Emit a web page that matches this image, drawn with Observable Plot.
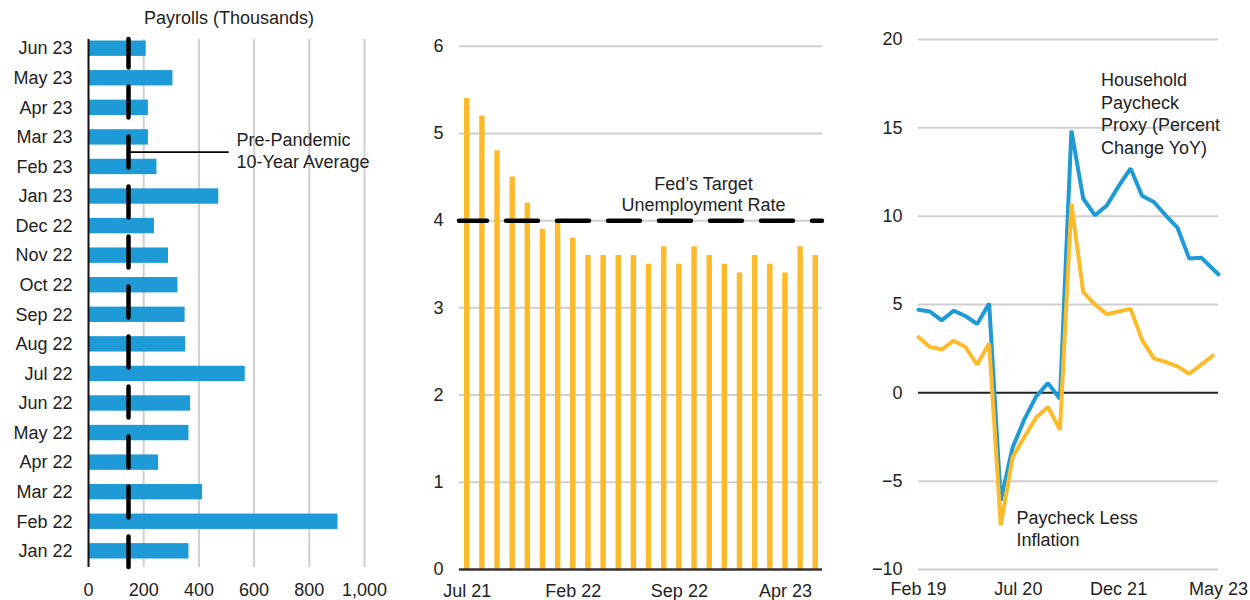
<!DOCTYPE html>
<html>
<head>
<meta charset="utf-8">
<script src="https://cdn.jsdelivr.net/npm/d3@7"></script>
<script src="https://cdn.jsdelivr.net/npm/@observablehq/plot@0.6"></script>
<style>
  body { margin: 0; background: #fff; font-family: "Liberation Sans", Arial, sans-serif; }
  #wrap { position: relative; width: 1250px; height: 600px; overflow: hidden; }
  .panel { position: absolute; top: 0; }
  .title { position: absolute; font-size: 18px; line-height: 20px; color: #222; text-align: center; white-space: nowrap; }
</style>
</head>
<body>
<div id="wrap">
  <div class="title" style="left:129px; width:200px; top:8px;">Payrolls (Thousands)</div>
  <div class="panel" id="payrolls" style="left:0px;"></div>
  <div class="panel" id="unemployment" style="left:420px;"></div>
  <div class="panel" id="paycheck" style="left:860px;"></div>
</div>
<script>
// ---- Panel 1: monthly nonfarm payroll gains (thousands), newest on top
const payrollMonths = ["Jun 23", "May 23", "Apr 23", "Mar 23", "Feb 23", "Jan 23", "Dec 22", "Nov 22", "Oct 22",
  "Sep 22", "Aug 22", "Jul 22", "Jun 22", "May 22", "Apr 22", "Mar 22", "Feb 22", "Jan 22"];
const payrollGains = [209, 306, 217, 217, 248, 472, 239, 290, 324, 350, 352, 568, 370, 364, 254, 413, 904, 364];
const prePandemicAvg = 145;
const payrollTicks = [0, 200, 400, 600, 800, 1000];
const avgNote = {month: "Feb 23", text: "Pre-Pandemic\n10-Year Average", leaderEnd: 510};

// ---- Panel 2: unemployment rate (%)
const rateMonths = ["Jul 21", "Aug 21", "Sep 21", "Oct 21", "Nov 21", "Dec 21", "Jan 22", "Feb 22", "Mar 22",
  "Apr 22", "May 22", "Jun 22", "Jul 22", "Aug 22", "Sep 22", "Oct 22", "Nov 22", "Dec 22", "Jan 23", "Feb 23",
  "Mar 23", "Apr 23", "May 23", "Jun 23"];
const unemploymentRate = [5.4, 5.2, 4.8, 4.5, 4.2, 3.9, 4.0, 3.8, 3.6, 3.6, 3.6, 3.6, 3.5, 3.7, 3.5, 3.7, 3.6, 3.5,
  3.4, 3.6, 3.5, 3.4, 3.7, 3.6];
const fedTarget = 4;
const rateTicks = [0, 1, 2, 3, 4, 5, 6];
const rateTickMonths = ["Jul 21", "Feb 22", "Sep 22", "Apr 23"];
const fedNote = {month: "Oct 22", text: "Fed\u2019s Target\nUnemployment Rate"};

// ---- Panel 3: household paycheck proxy and paycheck less inflation (% YoY)
const proxyDates = ["2019-02", "2019-04", "2019-06", "2019-08", "2019-10", "2019-12", "2020-02", "2020-04",
  "2020-06", "2020-08", "2020-10", "2020-12", "2021-02", "2021-04", "2021-06", "2021-08", "2021-10", "2021-12",
  "2022-02", "2022-04", "2022-06", "2022-08", "2022-10", "2022-12", "2023-02", "2023-05"];
const paycheckProxy = [4.7, 4.6, 4.1, 4.65, 4.35, 3.9, 5.05, -6.1, -3.1, -1.5, -0.2, 0.55, -0.35, 14.85, 11.0,
  10.05, 10.6, 11.7, 12.7, 11.15, 10.8, 10.05, 9.35, 7.6, 7.65, 6.7];
const realDates = ["2019-02", "2019-04", "2019-06", "2019-08", "2019-10", "2019-12", "2020-02", "2020-04",
  "2020-06", "2020-08", "2020-10", "2020-12", "2021-02", "2021-04", "2021-06", "2021-08", "2021-10", "2021-12",
  "2022-02", "2022-04", "2022-06", "2022-08", "2022-10", "2022-12", "2023-02", "2023-04"];
const paycheckLessInflation = [3.15, 2.6, 2.45, 2.95, 2.6, 1.6, 2.8, -7.5, -3.65, -2.5, -1.4, -0.8, -2.1, 10.7,
  5.7, 5.0, 4.45, 4.6, 4.75, 3.0, 1.95, 1.75, 1.5, 1.08, 1.6, 2.1];
const paycheckTicks = [-10, -5, 0, 5, 10, 15, 20];
const paycheckTickDates = ["2019-02", "2020-07", "2021-12", "2023-05"];
const proxyNote = {date: "2021-09", value: 15.85, text: "Household\nPaycheck\nProxy (Percent\nChange YoY)"};
const realNote = {date: "2020-06", value: -7.65, text: "Paycheck Less\nInflation"};

const BLUE = "#1e9ad6";
const GOLD = "#fdba2b";
const GRID = "#cfcfcf";
const INK = "#222";
const parseMonth = d3.utcParse("%Y-%m");
const baseStyle = {fontSize: "18px", fontFamily: "'Liberation Sans', Arial, sans-serif", color: INK, background: "transparent", overflow: "visible"};

// Payrolls: horizontal bars with the pre-pandemic average as a dashed reference
const payrollData = payrollMonths.map((m, i) => ({month: m, value: payrollGains[i]}));
const payrollPlot = Plot.plot({
  width: 420, height: 600,
  marginLeft: 88, marginRight: 56, marginTop: 39, marginBottom: 33,
  style: baseStyle,
  x: {domain: [0, 1000], ticks: payrollTicks, tickFormat: d3.format(","), tickSize: 0, tickPadding: 16, label: null},
  y: {domain: payrollMonths, range: [40.5, 558.5], paddingInner: 0.48, paddingOuter: 0, round: false, tickSize: 0, tickPadding: 16, label: null},
  marks: [
    Plot.ruleX(payrollTicks.filter(d => d > 0), {stroke: GRID, strokeWidth: 2}),
    Plot.barX(payrollData, {x: "value", y: "month", fill: BLUE}),
    Plot.ruleX([0], {stroke: "#111", strokeWidth: 2}),
    Plot.ruleX([prePandemicAvg], {stroke: "#000", strokeWidth: 4.5, strokeDasharray: "31,19", strokeDashoffset: 2.5, strokeLinecap: "round"}),
    Plot.ruleY([avgNote.month], {x1: prePandemicAvg, x2: avgNote.leaderEnd, dy: -14.8, stroke: "#000", strokeWidth: 1.6}),
    Plot.text([avgNote], {x: () => prePandemicAvg, y: "month", text: "text", dx: 108, dy: -17, textAnchor: "start", lineAnchor: "middle", lineHeight: 1.22, fontSize: 18, fill: INK})
  ]
});
document.getElementById("payrolls").append(payrollPlot);

// Unemployment: thin vertical bars against the Fed's target
const rateData = rateMonths.map((m, i) => ({month: m, value: unemploymentRate[i]}));
const ratePlot = Plot.plot({
  width: 420, height: 600,
  marginLeft: 39, marginRight: 18, marginTop: 45.7, marginBottom: 31,
  style: baseStyle,
  x: {domain: rateMonths, range: [44, 398], paddingInner: 0.64, paddingOuter: 0, round: false, ticks: rateTickMonths, tickSize: 0, tickPadding: 15, label: null},
  y: {domain: [0, 6], ticks: rateTicks, tickFormat: d3.format("d"), tickSize: 0, tickPadding: 16, label: null},
  marks: [
    Plot.ruleY(rateTicks.filter(d => d > 0), {stroke: GRID, strokeWidth: 2}),
    Plot.barY(rateData, {x: "month", y: "value", fill: GOLD}),
    Plot.ruleY([0], {stroke: "#333", strokeWidth: 2.5}),
    Plot.ruleY([fedTarget], {stroke: "#000", strokeWidth: 4.5, strokeDasharray: "32,19", strokeDashoffset: 4, strokeLinecap: "round"}),
    Plot.text([fedNote], {x: "month", y: () => fedTarget, text: "text", dx: 9, dy: -27, textAnchor: "middle", lineAnchor: "middle", lineHeight: 1.17, fontSize: 18, fill: INK})
  ]
});
document.getElementById("unemployment").append(ratePlot);

// Paycheck proxy: two year-over-year lines
const proxyData = proxyDates.map((d, i) => ({date: parseMonth(d), value: paycheckProxy[i]}));
const realData = realDates.map((d, i) => ({date: parseMonth(d), value: paycheckLessInflation[i]}));
const paycheckPlot = Plot.plot({
  width: 390, height: 600,
  marginLeft: 58, marginRight: 32, marginTop: 39, marginBottom: 31,
  style: baseStyle,
  x: {type: "utc", domain: [parseMonth("2019-02"), parseMonth("2023-05")], ticks: paycheckTickDates.map(parseMonth), tickFormat: d3.utcFormat("%b %y"), tickSize: 0, tickPadding: 13, label: null},
  y: {domain: [-10, 20], ticks: paycheckTicks, tickSize: 0, tickPadding: 16, label: null},
  marks: [
    Plot.ruleY(paycheckTicks.filter(d => d !== 0), {stroke: GRID, strokeWidth: 2}),
    Plot.ruleY([0], {stroke: "#222", strokeWidth: 2}),
    Plot.line(proxyData, {x: "date", y: "value", stroke: BLUE, strokeWidth: 4, strokeLinejoin: "miter"}),
    Plot.line(realData, {x: "date", y: "value", stroke: GOLD, strokeWidth: 4, strokeLinejoin: "miter"}),
    Plot.text([proxyNote], {x: d => parseMonth(d.date), y: "value", text: "text", textAnchor: "start", lineAnchor: "middle", lineHeight: 1.25, fontSize: 18, fill: INK}),
    Plot.text([realNote], {x: d => parseMonth(d.date), y: "value", text: "text", dx: 4, textAnchor: "start", lineAnchor: "middle", lineHeight: 1.22, fontSize: 18, fill: INK})
  ]
});
document.getElementById("paycheck").append(paycheckPlot);
</script>
</body>
</html>
